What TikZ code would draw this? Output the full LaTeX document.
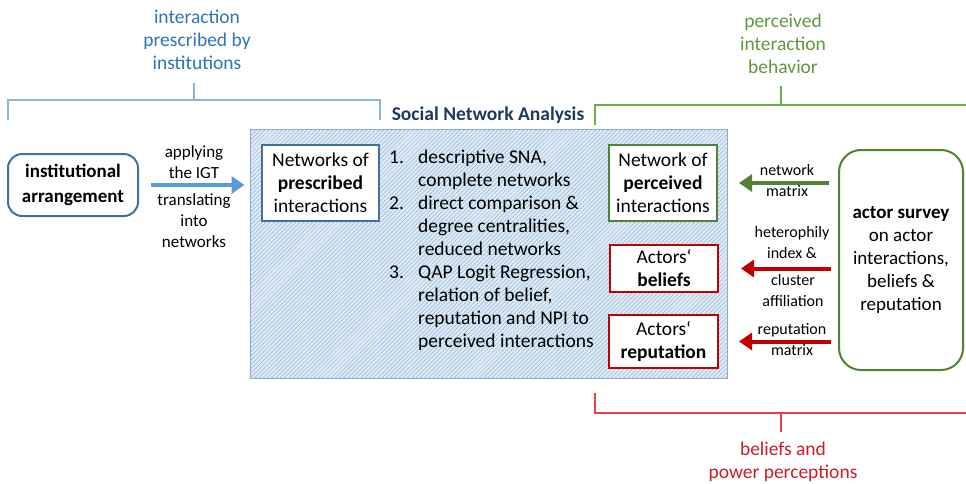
\documentclass[tikz,border=0pt]{standalone}
\usepackage{fontspec}
\setmainfont{Carlito}
\usetikzlibrary{arrows.meta,patterns.meta}

\definecolor{igtblue}{RGB}{65,113,156}
\definecolor{arrblue}{RGB}{91,155,213}
\definecolor{lblblue}{RGB}{46,117,182}
\definecolor{brkblue}{RGB}{140,180,215}
\definecolor{survgreen}{RGB}{84,130,53}
\definecolor{lblgreen}{RGB}{100,150,60}
\definecolor{brkgreen}{RGB}{112,173,71}
\definecolor{belred}{RGB}{192,0,0}
\definecolor{lblred}{RGB}{200,30,40}
\definecolor{brkred}{RGB}{225,70,70}
\definecolor{snatitle}{RGB}{31,56,100}
\definecolor{snafill}{RGB}{222,235,247}
\definecolor{snahatch}{RGB}{150,180,210}

\tikzset{
	netbox/.style={draw, line width=2pt, fill=white, align=center, inner sep=2pt},
	roundbox/.style={draw, line width=2pt, fill=white, align=center},
	arrlabel/.style={align=center, inner sep=1pt, font=\fontsize{16}{21}\selectfont},
	bracelabel/.style={align=center, inner sep=1pt},
	fatarrow/.style={line width=4pt, -{Triangle[length=13pt,width=17pt]}},
	bracket/.style={line width=1.2pt}}

\begin{document}
\begin{tikzpicture}[x=1pt,y=1pt,yscale=-1,xscale=1,font=\fontsize{19.5}{23}\selectfont]
	\useasboundingbox (0,0) rectangle (966,484);

	% brackets on top and below
	\draw [bracket, brkblue] (8,120) -- (8,100) -- (380,100) -- (380,120);
	\draw [bracket, brkblue] (194,100) -- (194,83);
	\draw [bracket, brkgreen] (595,125) -- (595,105) -- (966,105);
	\draw [bracket, brkgreen] (781,105) -- (781,86);
	\draw [bracket, brkred] (595,393) -- (595,413) -- (966,413);
	\draw [bracket, brkred] (781,413) -- (781,432);

	% bracket texts
	\node [bracelabel, text=lblblue] (presclbl) at (197,40) {interaction\\prescribed by\\institutions};
	\node [bracelabel, text=lblgreen] (perclbl) at (783,44) {perceived\\interaction\\behavior};
	\node [bracelabel, text=lblred] (powerlbl) at (783,462) {beliefs and\\power perceptions};

	% SNA box
	\node [draw=igtblue!60, line width=1pt, fill=snafill, postaction={pattern={Lines[angle=45,distance=3pt,line width=0.5pt]}, pattern color=snahatch}, minimum width=477pt, minimum height=248pt, inner sep=0pt] (sna) at (488.5,254) {};
	\node [font=\bfseries\fontsize{19.5}{20}\selectfont, text=snatitle] (title) at (488,115) {Social Network Analysis};

	\node [netbox, draw=igtblue, minimum width=117pt, minimum height=76pt] (presc) at (320.5,183) {Networks of\\\textbf{prescribed}\\interactions};
	\node [netbox, draw=survgreen, minimum width=108pt, minimum height=76pt] (perc) at (663,183) {Network of\\\textbf{perceived}\\interactions};
	\node [netbox, draw=belred, minimum width=108pt, minimum height=47pt] (belief) at (664,268.5) {Actors‘\\\textbf{beliefs}};
	\node [netbox, draw=belred, minimum width=109pt, minimum height=53pt] (reput) at (663.5,341.5) {Actors‘\\\textbf{reputation}};

	\node [anchor=north west, inner sep=0pt] (steps) at (389,147) {\begin{tabular}{@{}p{29pt}@{}l@{}}
		1. & descriptive SNA,\\
		   & complete networks\\
		2. & direct comparison \&\\
		   & degree centralities,\\
		   & reduced networks\\
		3. & QAP Logit Regression,\\
		   & relation of belief,\\
		   & reputation and NPI to\\
		   & perceived interactions
	\end{tabular}};

	% left side
	\node [roundbox, draw=igtblue, rounded corners=14pt, minimum width=130pt, minimum height=62pt, font=\bfseries\fontsize{19}{25}\selectfont] (arrange) at (73,185) {institutional\\arrangement};
	\draw [fatarrow, arrblue, shorten <=12pt, shorten >=5pt] (arrange.east) -- (arrange.east -| sna.west);
	\node [arrlabel, font=\fontsize{17}{21}\selectfont] (apply) at (194,162) {applying\\the IGT};
	\node [arrlabel, font=\fontsize{17}{21}\selectfont] (transl) at (194,221) {translating\\into\\networks};

	% right side
	\node [roundbox, draw=survgreen, rounded corners=22pt, minimum width=124pt, minimum height=220pt, font=\fontsize{19}{23}\selectfont] (survey) at (901,260) {\textbf{actor survey}\\on actor\\interactions,\\beliefs \&\\reputation};
	\draw [fatarrow, survgreen, shorten <=9pt, shorten >=21pt] (survey.west |- perc.east) -- (perc.east);
	\draw [fatarrow, belred, shorten <=7pt, shorten >=22pt] (survey.west |- belief.east) -- (belief.east);
	\draw [fatarrow, belred, shorten <=7pt, shorten >=20pt] (survey.west |- reput.east) -- (reput.east);
	\node [arrlabel] (netmat) at (787,181) {network\\matrix};
	\node [arrlabel] (hetero) at (792,243) {heterophily\\index \&};
	\node [arrlabel] (cluster) at (793,290.5) {cluster\\affiliation};
	\node [arrlabel] (repmat) at (792,339.5) {reputation\\matrix};

\end{tikzpicture}
\end{document}
